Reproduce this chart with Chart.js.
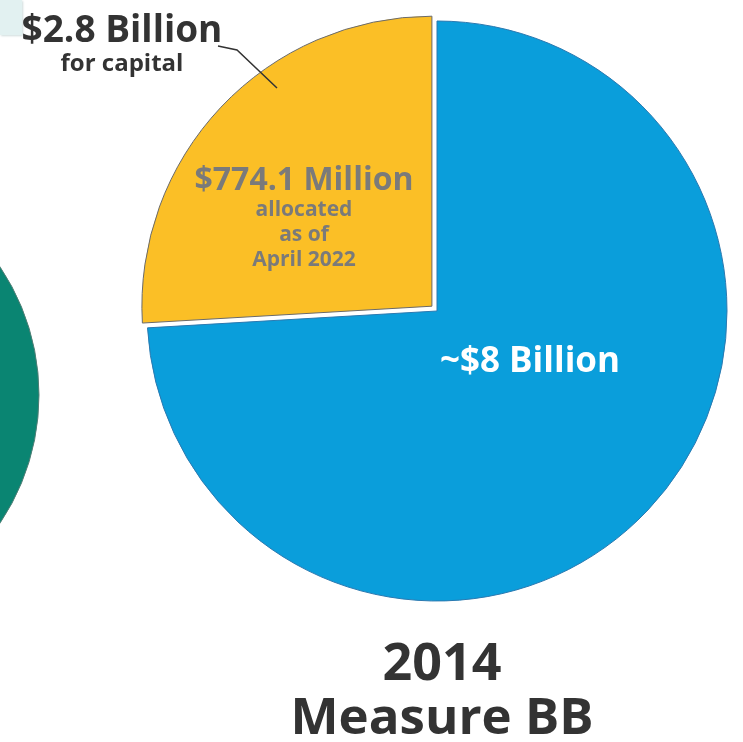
<!DOCTYPE html>
<html>
<head>
<meta charset="utf-8">
<script src="https://cdn.jsdelivr.net/npm/chart.js@4"></script>
<style>
  html, body { margin: 0; padding: 0; background: #fff; }
  body { width: 743px; height: 742px; position: relative; overflow: hidden; font-family: "Open Sans", Lato, sans-serif; font-weight: 700; }
  #main { position: absolute; left: 0; top: 0; }
  #prior { position: absolute; left: -422px; top: 164px; }
  .lbl { position: absolute; transform: translate(-50%, -50%); white-space: nowrap; line-height: 1; }
  .dark { color: #333; }
  .gray { color: #7a7a7a; }
  .white { color: #fff; }
  .corner-box { position: absolute; left: 0; top: 0; width: 22px; height: 35px; background: #e2f1f1; box-shadow: 1px 1px 2px #cfdcdc; }
</style>
</head>
<body>
<div class="corner-box"></div>
<canvas id="prior" width="462" height="462"></canvas>
<canvas id="main" width="743" height="742"></canvas>

<div class="lbl dark" style="left:122px; top:27px; font-size:37px;">$2.8 Billion</div>
<div class="lbl dark" style="left:122px; top:62px; font-size:24px;">for capital</div>
<div class="lbl gray" style="left:304px; top:178px; font-size:32px;">$774.1 Million</div>
<div class="lbl gray" style="left:304px; top:208px; font-size:21px;">allocated</div>
<div class="lbl gray" style="left:304px; top:233px; font-size:21px;">as of</div>
<div class="lbl gray" style="left:304px; top:258px; font-size:21px;">April 2022</div>
<div class="lbl white" style="left:530px; top:358px; font-size:35px;">~$8 Billion</div>
<div class="lbl dark" style="left:442px; top:660px; font-size:52px;">2014</div>
<div class="lbl dark" style="left:442px; top:714px; font-size:51px;">Measure BB</div>

<script>
// 2014 Measure BB split (billions)
const bbLabels = ['Remaining', 'Capital'];
const bbValues = [8, 2.8];
const bbColors = ['#0a9edb', '#fbbf26'];
const bbBorders = ['#2b79b0', '#6a6a6a'];
const bbOffsets = [0, 28]; // chart.js v4 moves an arc by offset/4 px

// neighbouring measure, only its edge shows at the left
const priorLabels = ['Prior measure'];
const priorValues = [1];
const priorColors = ['#0a8572'];

// leader line from the "$2.8 Billion" label into the yellow slice
const leaderLine = {
  id: 'leaderLine',
  afterDatasetsDraw(chart) {
    const ctx = chart.ctx;
    ctx.save();
    ctx.strokeStyle = '#333';
    ctx.lineWidth = 1.5;
    ctx.beginPath();
    ctx.moveTo(218, 46);
    ctx.lineTo(237, 50);
    ctx.lineTo(277, 88);
    ctx.stroke();
    ctx.restore();
  }
};

new Chart(document.getElementById('main'), {
  type: 'pie',
  data: {
    labels: bbLabels,
    datasets: [{
      data: bbValues,
      backgroundColor: bbColors,
      borderColor: bbBorders,
      borderWidth: 1,
      offset: bbOffsets,
    }]
  },
  options: {
    responsive: false,
    animation: false,
    radius: 290,
    layout: { padding: { left: 131, right: 0, top: 0, bottom: 120 } },
    plugins: { legend: { display: false }, tooltip: { enabled: false } },
  },
  plugins: [leaderLine],
});

new Chart(document.getElementById('prior'), {
  type: 'pie',
  data: {
    labels: priorLabels,
    datasets: [{ data: priorValues, backgroundColor: priorColors, borderColor: '#4f7d74', borderWidth: 1 }]
  },
  options: {
    responsive: false,
    animation: false,
    radius: 230,
    plugins: { legend: { display: false }, tooltip: { enabled: false } },
  },
});
</script>
</body>
</html>
